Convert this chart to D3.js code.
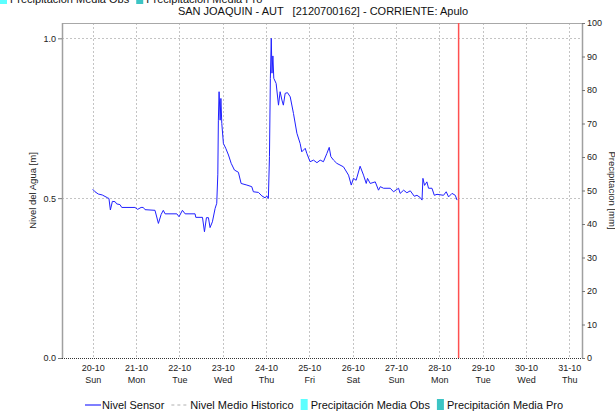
<!DOCTYPE html>
<html>
<head>
<meta charset="utf-8">
<script src="https://cdn.jsdelivr.net/npm/d3@7"></script>
<style>
  html, body { margin: 0; padding: 0; background: #fff; }
  svg { display: block; font-family: "Liberation Sans", Arial, sans-serif; }
</style>
</head>
<body>
<svg id="chart" width="615" height="417"></svg>
<script>
// Station water level, hours after 2019-10-20 00:00 and level in metres
const sensorHours = [
  0, 1.3, 3.1, 5.3, 8.3, 9.0, 9.8, 10.9, 12.4, 13.3, 15.1, 16.1, 23.4, 24.9, 26.8, 28.0, 29.0,
  34.5, 36.4, 37.9, 39.1, 40.1, 46.6, 47.8, 49.7, 51.2, 56.7, 57.1, 60.8, 61.9, 63.0, 64.1, 65.0,
  66.3, 67.8, 68.7, 69.3, 69.6, 70.0, 70.6, 71.0, 71.5, 72.4, 73.7, 75.2, 76.7, 78.5, 80.7, 82.2,
  85.4, 88.1, 89.0, 91.8, 93.7, 95.5, 96.4, 97.3, 97.9, 98.4, 98.9, 99.3, 99.8, 100.3, 101.6, 102.9,
  103.8, 104.8, 105.6, 106.6, 107.9, 109.4, 111.2, 113.1, 114.9, 115.8, 117.7, 118.6, 120.4, 122.3,
  124.2, 126.0, 127.8, 129.7, 131.0, 131.9, 133.4, 135.2, 138.9, 141.7, 143.2, 144.4, 145.9, 148.1,
  150.0, 151.5, 152.2, 153.7, 156.5, 158.3, 159.3, 161.1, 164.8, 166.6, 169.4, 170.3, 172.2, 174.0,
  175.9, 178.1, 179.6, 181.4, 182.4, 182.9, 183.8, 185.1, 186.0, 187.9, 189.2, 190.7, 194.3, 195.8,
  197.1, 199.0, 200.8, 201.8
];
const sensorLevel = [
  0.528, 0.520, 0.513, 0.510, 0.501, 0.499, 0.463, 0.490, 0.489, 0.482, 0.480, 0.471, 0.471, 0.465, 0.471, 0.471, 0.464,
  0.462, 0.421, 0.449, 0.462, 0.451, 0.451, 0.442, 0.462, 0.451, 0.451, 0.440, 0.440, 0.395, 0.439, 0.439, 0.408,
  0.426, 0.468, 0.484, 0.575, 0.744, 0.833, 0.744, 0.812, 0.734, 0.671, 0.656, 0.635, 0.609, 0.588, 0.581, 0.546,
  0.541, 0.536, 0.520, 0.518, 0.507, 0.501, 0.507, 0.499, 0.630, 0.875, 1.000, 0.891, 0.945, 0.875, 0.859, 0.791,
  0.833, 0.807, 0.791, 0.828, 0.830, 0.817, 0.765, 0.703, 0.671, 0.645, 0.656, 0.640, 0.614, 0.619,
  0.611, 0.619, 0.614, 0.640, 0.659, 0.630, 0.619, 0.609, 0.598, 0.572, 0.541, 0.562, 0.556, 0.600,
  0.572, 0.546, 0.562, 0.546, 0.551, 0.525, 0.536, 0.531, 0.531, 0.520, 0.531, 0.515, 0.525, 0.517,
  0.523, 0.506, 0.509, 0.502, 0.494, 0.562, 0.540, 0.551, 0.531, 0.531, 0.509, 0.512, 0.509, 0.520,
  0.504, 0.515, 0.509, 0.494
];

const dayTicks = ["2019-10-20","2019-10-21","2019-10-22","2019-10-23","2019-10-24","2019-10-25",
  "2019-10-26","2019-10-27","2019-10-28","2019-10-29","2019-10-30","2019-10-31"];
const weekdayNames = ["Sun","Mon","Tue","Wed","Thu","Fri","Sat"];
const levelTicks = [0, 0.5, 1.0];
const precipTicks = [0, 10, 20, 30, 40, 50, 60, 70, 80, 90, 100];
const rangeStart = "2019-10-19T07:00:00";
const rangeEnd = "2019-10-31T07:00:00";
const nowMarker = "2019-10-28T10:40:00";
const seriesStart = "2019-10-20T00:00:00";

const titleText = "SAN JOAQUIN - AUT   [2120700162] - CORRIENTE: Apulo";
const legendItems = [
  { label: "Nivel Sensor", kind: "line", color: "#2a2aff" },
  { label: "Nivel Medio Historico", kind: "dash", color: "#b0b0b0" },
  { label: "Precipitación Media Obs", kind: "box", color: "#5cffff" },
  { label: "Precipitación Media Pro", kind: "box", color: "#3cc4c4" }
];

const svg = d3.select("#chart");
const plot = { left: 62, right: 582, top: 23, bottom: 358 };

const t0 = new Date(seriesStart);
const series = sensorHours.map((h, i) => ({ t: new Date(t0.getTime() + h * 3600e3), v: sensorLevel[i] }));

const x = d3.scaleTime().domain([new Date(rangeStart), new Date(rangeEnd)]).range([plot.left, plot.right]);
const yL = d3.scaleLinear().domain([0, 1.048]).range([plot.bottom, plot.top]);
const yR = d3.scaleLinear().domain([0, 100]).range([plot.bottom, plot.top]);

const gridColor = "#c4c4c4";
const days = dayTicks.map(d => new Date(d + "T00:00:00"));

// grid
svg.append("g").selectAll("line").data(days).join("line")
  .attr("x1", d => Math.round(x(d)) + 0.5).attr("x2", d => Math.round(x(d)) + 0.5)
  .attr("y1", plot.top).attr("y2", plot.bottom)
  .attr("stroke", gridColor).attr("stroke-dasharray", "2,2");
svg.append("g").selectAll("line").data(levelTicks.filter(v => v > 0)).join("line")
  .attr("x1", plot.left).attr("x2", plot.right)
  .attr("y1", d => Math.round(yL(d)) + 0.5).attr("y2", d => Math.round(yL(d)) + 0.5)
  .attr("stroke", gridColor).attr("stroke-dasharray", "2,2");

// frame
svg.append("line").attr("x1", plot.left).attr("x2", plot.right).attr("y1", plot.top + 0.5).attr("y2", plot.top + 0.5)
  .attr("stroke", "#a8a8a8");
svg.append("line").attr("x1", plot.left + 0.5).attr("x2", plot.left + 0.5).attr("y1", plot.top).attr("y2", plot.bottom)
  .attr("stroke", "#a0a0a0").attr("stroke-width", 1.5);
svg.append("line").attr("x1", plot.right + 0.5).attr("x2", plot.right + 0.5).attr("y1", plot.top).attr("y2", plot.bottom)
  .attr("stroke", "#a0a0a0").attr("stroke-width", 1.5);
svg.append("line").attr("x1", plot.left).attr("x2", plot.right).attr("y1", plot.bottom + 0.5).attr("y2", plot.bottom + 0.5)
  .attr("stroke", "#333").attr("stroke-dasharray", "1,1");

// left axis
const axL = d3.axisLeft(yL).tickValues(levelTicks).tickFormat(d3.format(".1f")).tickSize(4).tickPadding(2);
const gL = svg.append("g").attr("transform", `translate(${plot.left},0)`).call(axL);
gL.select(".domain").remove();
gL.selectAll("line").attr("stroke", "#777");
gL.selectAll("text").attr("font-size", 9).attr("fill", "#222").attr("font-family", "Liberation Sans, Arial, sans-serif");

// right axis
const axR = d3.axisRight(yR).tickValues(precipTicks).tickSize(3).tickPadding(2);
const gR = svg.append("g").attr("transform", `translate(${plot.right},0)`).call(axR);
gR.select(".domain").remove();
gR.selectAll("line").attr("stroke", "#777");
gR.selectAll("text").attr("font-size", 9).attr("fill", "#222").attr("font-family", "Liberation Sans, Arial, sans-serif");

// bottom axis labels: date and weekday
const fmtDay = d3.timeFormat("%d-%m");
const gX = svg.append("g").attr("font-size", 9).attr("fill", "#222").attr("text-anchor", "middle");
gX.selectAll("text.d").data(days).join("text").attr("class", "d")
  .attr("x", d => x(d) + 0.5).attr("y", 371).text(d => fmtDay(d));
gX.selectAll("text.w").data(days).join("text").attr("class", "w")
  .attr("x", d => x(d) + 0.5).attr("y", 383).text(d => weekdayNames[d.getDay()]);

// axis titles
svg.append("text").attr("transform", `translate(36,${(plot.top + plot.bottom) / 2}) rotate(-90)`)
  .attr("text-anchor", "middle").attr("font-size", 9.5).attr("fill", "#222").text("Nivel del Agua [m]");
svg.append("text").attr("transform", `translate(609,${(plot.top + plot.bottom) / 2}) rotate(90)`)
  .attr("text-anchor", "middle").attr("font-size", 9.5).attr("fill", "#222").text("Precipitacion [mm]");

// sensor line
const line = d3.line().x(d => x(d.t)).y(d => yL(d.v));
svg.append("path").datum(series).attr("d", line)
  .attr("fill", "none").attr("stroke", "#2020ff").attr("stroke-width", 1).attr("stroke-linejoin", "round");

// current time marker
const xn = x(new Date(nowMarker));
svg.append("line").attr("x1", xn).attr("x2", xn).attr("y1", plot.top).attr("y2", plot.bottom)
  .attr("stroke", "#ff5050").attr("stroke-width", 1.5);

// title
svg.append("text").attr("x", 323).attr("y", 15).attr("text-anchor", "middle")
  .attr("font-size", 11).attr("fill", "#111").style("white-space", "pre").text(titleText);

// legends
function drawLegend(items, x0, yBase, fontSize) {
  const g = svg.append("g").attr("font-size", fontSize).attr("fill", "#111");
  let cx = x0;
  items.forEach(it => {
    if (it.kind === "line") {
      g.append("line").attr("x1", cx).attr("x2", cx + 16).attr("y1", yBase - 4).attr("y2", yBase - 4)
        .attr("stroke", it.color).attr("stroke-width", 1.2);
      cx += 17;
    } else if (it.kind === "dash") {
      g.append("line").attr("x1", cx).attr("x2", cx + 16).attr("y1", yBase - 4).attr("y2", yBase - 4)
        .attr("stroke", it.color).attr("stroke-dasharray", "3,3");
      cx += 19;
    } else {
      g.append("rect").attr("x", cx).attr("y", yBase - 10).attr("width", 7).attr("height", 11).attr("fill", it.color);
      cx += 10;
    }
    const t = g.append("text").attr("x", cx).attr("y", yBase).text(it.label);
    cx += t.node().getComputedTextLength() + 7;
  });
}
drawLegend(legendItems.slice(2), 0, 3, 11);
drawLegend(legendItems, 85, 409, 11);
</script>
</body>
</html>
